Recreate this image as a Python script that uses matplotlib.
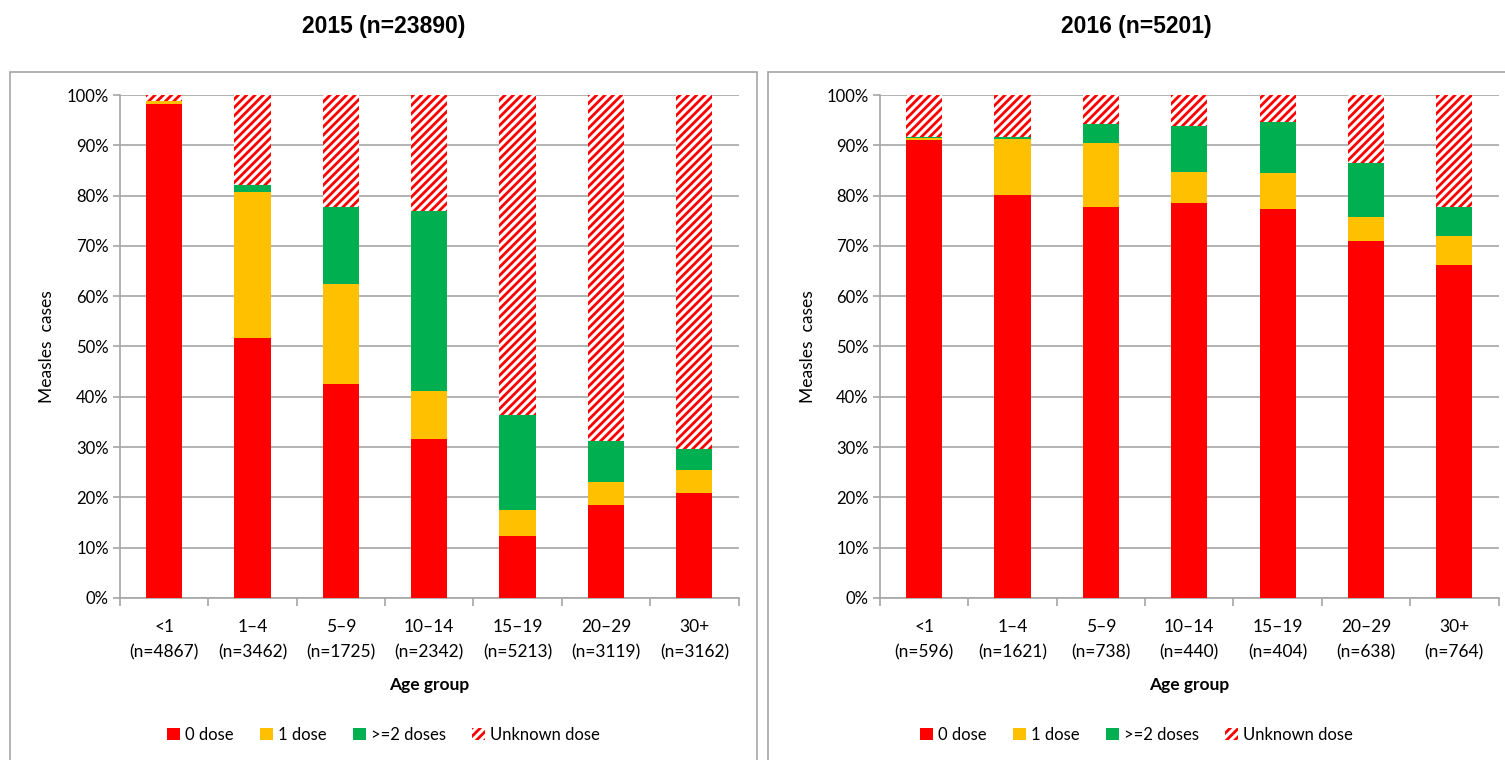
import matplotlib
matplotlib.use("Agg")
import matplotlib.pyplot as plt
from matplotlib.patches import Rectangle, Patch
from matplotlib.ticker import PercentFormatter, FixedLocator
import numpy as np

plt.rcParams["font.family"] = ["Lato", "DejaVu Sans"]
plt.rcParams["hatch.linewidth"] = 2.0

age_groups = ["<1", "1\u20134", "5\u20139", "10\u201314", "15\u201319", "20\u201329", "30+"]

n_2015 = [4867, 3462, 1725, 2342, 5213, 3119, 3162]
zero_2015 = [98.3, 51.7, 42.5, 31.6, 12.3, 18.5, 20.8]
one_2015 = [0.5, 29.1, 20.0, 9.5, 5.1, 4.5, 4.7]
two_2015 = [0.0, 1.4, 15.3, 35.8, 19.0, 8.3, 4.1]

n_2016 = [596, 1621, 738, 440, 404, 638, 764]
zero_2016 = [91.1, 80.1, 77.7, 78.5, 77.3, 71.0, 66.2]
one_2016 = [0.4, 11.2, 12.8, 6.2, 7.2, 4.7, 5.8]
two_2016 = [0.1, 0.3, 3.7, 9.2, 10.2, 10.8, 5.7]

RED = "#FF0000"
YELLOW = "#FFC000"
GREEN = "#00B050"
GRID = "#A6A6A6"

fig = plt.figure(figsize=(15.05, 7.6), dpi=100)


def panel(left, title, n, zero, one, two, box_x0, box_x1):
    ax = fig.add_axes([left, 0.2132, 0.411, 0.6618])
    x = np.arange(len(age_groups))
    zero = np.array(zero)
    one = np.array(one)
    two = np.array(two)
    unknown = 100 - zero - one - two
    w = 0.41
    ax.bar(x, zero, w, color=RED, zorder=3)
    ax.bar(x, one, w, bottom=zero, color=YELLOW, zorder=3)
    ax.bar(x, two, w, bottom=zero + one, color=GREEN, zorder=3)
    ax.bar(x, unknown, w, bottom=zero + one + two, color="white",
           edgecolor=RED, hatch="////", linewidth=0, zorder=3)

    ax.set_xlim(-0.5, len(age_groups) - 0.5)
    ax.set_ylim(0, 100)
    ax.yaxis.set_major_locator(FixedLocator(np.arange(0, 101, 10)))
    ax.yaxis.set_major_formatter(PercentFormatter(decimals=0))
    ax.grid(axis="y", color=GRID, linewidth=1.2, zorder=0)
    for s in ["top", "right"]:
        ax.spines[s].set_visible(False)
    for s in ["left", "bottom"]:
        ax.spines[s].set_color(GRID)
        ax.spines[s].set_linewidth(1.2)
    ax.set_xticks(x)
    ax.set_xticklabels([f"{a}\n(n={v})" for a, v in zip(age_groups, n)],
                       fontsize=12.5, linespacing=1.75)
    ax.set_xticks(np.arange(-0.5, len(age_groups)), minor=True)
    ax.tick_params(axis="x", which="major", length=0, pad=15)
    ax.tick_params(axis="x", which="minor", length=6, color=GRID, width=1.2)
    ax.tick_params(axis="y", length=5, color=GRID, width=1.2, labelsize=12, pad=3)
    ax.set_xlabel("Age group", fontsize=12.5, fontweight="bold", labelpad=12)
    ax.set_ylabel("Measles  cases", fontsize=12.5, labelpad=8)

    cx = (box_x0 + min(box_x1, 1.0)) / 2
    fig.text(cx, 0.965, title, ha="center", va="center", fontsize=16.5,
             fontweight="bold", family="Liberation Sans")
    fig.patches.append(Rectangle((box_x0, -0.05), box_x1 - box_x0, 0.955,
                                 transform=fig.transFigure, fill=False,
                                 edgecolor=GRID, linewidth=1.2))
    handles = [Patch(facecolor=RED, label="0 dose"),
               Patch(facecolor=YELLOW, label="1 dose"),
               Patch(facecolor=GREEN, label=">=2 doses"),
               Patch(facecolor="white", edgecolor=RED, hatch="////",
                     linewidth=0, label="Unknown dose")]
    fig.legend(handles=handles, loc="center", bbox_to_anchor=(cx, 0.033),
               ncol=4, frameon=False, fontsize=12, handlelength=0.75,
               handleheight=0.75, handletextpad=0.3, columnspacing=1.6)
    return ax


panel(0.0797, "2015 (n=23890)", n_2015, zero_2015, one_2015, two_2015,
      10 / 1505, 757 / 1505)
panel(0.5847, "2016 (n=5201)", n_2016, zero_2016, one_2016, two_2016,
      768 / 1505, 1.02)

fig.savefig("out.png", dpi=100)
